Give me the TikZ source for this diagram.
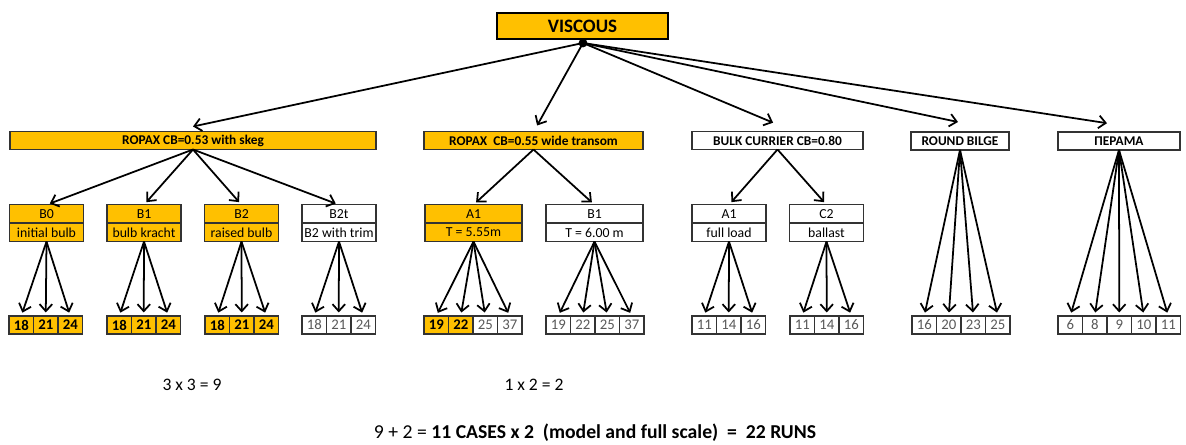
\documentclass[tikz,border=0pt]{standalone}
\usepackage{fontspec}
\setmainfont{Carlito}
\usetikzlibrary{arrows.meta,positioning}
\definecolor{gold}{HTML}{FFC000}
\definecolor{rim}{HTML}{333333}

\begin{document}
\begin{tikzpicture}[
  x=0.025cm, y=-0.025cm,
  every node/.style={align=center, inner sep=0pt, outer sep=0pt},
  head/.style={draw=black, line width=1.8pt, fill=gold, minimum width=4.275cm,
               minimum height=0.65cm, font=\fontsize{13.5}{15}\selectfont\bfseries},
  hull/.style={draw=rim, line width=1pt, minimum height=0.45cm,
               font=\fontsize{9.5}{11}\selectfont\bfseries},
  case/.style={draw=rim, line width=1pt, minimum width=1.85cm, minimum height=0.46cm,
               font=\fontsize{9.8}{11}\selectfont},
  wide/.style={case, minimum width=2.425cm},
  cell/.style={draw=rim, line width=1pt, minimum width=0.6125cm, minimum height=0.45cm,
               font=\fontsize{10.5}{12}\selectfont},
  hot/.style={fill=gold, font=\fontsize{10.5}{12}\selectfont\bfseries},
  cold/.style={fill=white, text=black!65},
  arr/.style={-{Straight Barb[length=5pt,width=9pt]}, line width=1.25pt},
  drop/.style={arr, shorten >=2.5pt}
]
\useasboundingbox (0,0) rectangle (1186,445);

% top of the tree
\node[head] (visc) at (582.5,26) {VISCOUS};
\node[circle, fill=black, minimum size=0.22cm] (hub) at (583,43) {};

% hull forms
\node[hull, fill=gold, minimum width=9.15cm]  (r53)  at (193,140.5)   {ROPAX CB=0.53 with skeg};
\node[hull, fill=gold, minimum width=5.475cm] (r55)  at (533.5,140.5) {ROPAX\ \ CB=0.55 wide transom};
\node[hull, minimum width=4.275cm]            (bulk) at (777.5,140.5) {BULK CURRIER CB=0.80};
\node[hull, minimum width=2.45cm]             (rb)   at (960,141)     {ROUND BILGE};
\node[hull, minimum width=3.05cm]             (per)  at (1119,141)    {ΠΕΡΑΜΑ};

\draw[arr] (hub.center) -- ([yshift=0.125cm]r53.north);
\draw[arr] (hub.center) -- ([xshift=0.09cm,yshift=0.15cm]r55.north);
\draw[arr] (hub.center) -- ([xshift=-0.11cm,yshift=0.22cm]bulk.north);
\draw[arr] (hub.center) -- ([xshift=-0.05cm,yshift=0.25cm]rb.north);
\draw[arr] (hub.center) -- ([xshift=-0.3cm,yshift=0.22cm]per.north);

% variants
\node[case, fill=gold] (b0)  at (46.5,214)  {B0};
\node[case, fill=gold, below=0pt of b0] (b0d) {initial bulb};
\node[case, fill=gold] (b1)  at (144,214)   {B1};
\node[case, fill=gold, below=0pt of b1] (b1d) {bulb kracht};
\node[case, fill=gold] (b2)  at (241.5,214) {B2};
\node[case, fill=gold, below=0pt of b2] (b2d) {raised bulb};
\node[case] (b2t) at (339,214) {B2t};
\node[case, below=0pt of b2t] (b2td) {B2 with trim};

\node[wide, fill=gold] (a1) at (473.5,214) {A1};
\node[wide, fill=gold, below=0pt of a1] (a1d) {T = 5.55m};
\node[wide] (b1w) at (594.5,214) {B1};
\node[wide, below=0pt of b1w] (b1wd) {T = 6.00 m};

\node[case] (bka1) at (729,214) {A1};
\node[case, below=0pt of bka1] (bka1d) {full load};
\node[case] (bkc2) at (826.5,214) {C2};
\node[case, below=0pt of bkc2] (bkc2d) {ballast};

\foreach \c in {b0,b1,b2,b2t} \draw[drop] (r53.south) -- (\c.north);
\foreach \c in {a1,b1w} \draw[drop] (r55.south) -- (\c.north);
\foreach \c in {bka1,bkc2} \draw[drop] (bulk.south) -- (\c.north);

% runs per variant
\foreach \v/\s [count=\i] in {18/hot,21/hot,24/hot} {
  \node[cell,\s] (b0r\i) at (9+24.5*\i-12.25,325) {\v};
  \draw[drop] (b0d.south) -- (b0r\i.north);
}
\foreach \v/\s [count=\i] in {18/hot,21/hot,24/hot} {
  \node[cell,\s] (b1r\i) at (107+24.5*\i-12.25,325) {\v};
  \draw[drop] (b1d.south) -- (b1r\i.north);
}
\foreach \v/\s [count=\i] in {18/hot,21/hot,24/hot} {
  \node[cell,\s] (b2r\i) at (205+24.5*\i-12.25,325) {\v};
  \draw[drop] (b2d.south) -- (b2r\i.north);
}
\foreach \v/\s [count=\i] in {18/cold,21/cold,24/cold} {
  \node[cell,\s] (b2tr\i) at (302+24.5*\i-12.25,325) {\v};
  \draw[drop] (b2td.south) -- (b2tr\i.north);
}
\foreach \v/\s [count=\i] in {19/hot,22/hot,25/cold,37/cold} {
  \node[cell,\s] (a1r\i) at (424+24.5*\i-12.25,325) {\v};
  \draw[drop] (a1d.south) -- (a1r\i.north);
}
\foreach \v/\s [count=\i] in {19/cold,22/cold,25/cold,37/cold} {
  \node[cell,\s] (b1wr\i) at (546+24.5*\i-12.25,325) {\v};
  \draw[drop] (b1wd.south) -- (b1wr\i.north);
}
\foreach \v/\s [count=\i] in {11/cold,14/cold,16/cold} {
  \node[cell,\s] (bka1r\i) at (692+24.5*\i-12.25,325) {\v};
  \draw[drop] (bka1d.south) -- (bka1r\i.north);
}
\foreach \v/\s [count=\i] in {11/cold,14/cold,16/cold} {
  \node[cell,\s] (bkc2r\i) at (790+24.5*\i-12.25,325) {\v};
  \draw[drop] (bkc2d.south) -- (bkc2r\i.north);
}
\foreach \v/\s [count=\i] in {16/cold,20/cold,23/cold,25/cold} {
  \node[cell,\s] (rbr\i) at (912+24.5*\i-12.25,325) {\v};
  \draw[drop] (rb.south) -- (rbr\i.north);
}
\foreach \v/\s [count=\i] in {6/cold,8/cold,9/cold,10/cold,11/cold} {
  \node[cell,\s] (perr\i) at (1058+24.5*\i-12.25,325) {\v};
  \draw[drop] (per.south) -- (perr\i.north);
}

% counts
\node[font=\fontsize{12.5}{14}\selectfont] (sum53) at (192,385) {3 x 3 = 9};
\node[font=\fontsize{12.5}{14}\selectfont] (sum55) at (534,385) {1 x 2 = 2};
\node[font=\fontsize{14}{16}\selectfont] (total) at (595,433)
  {9 + 2 = \textbf{11 CASES x 2\ \ (model and full scale)\ \ =\ \ 22 RUNS}};
\end{tikzpicture}
\end{document}
